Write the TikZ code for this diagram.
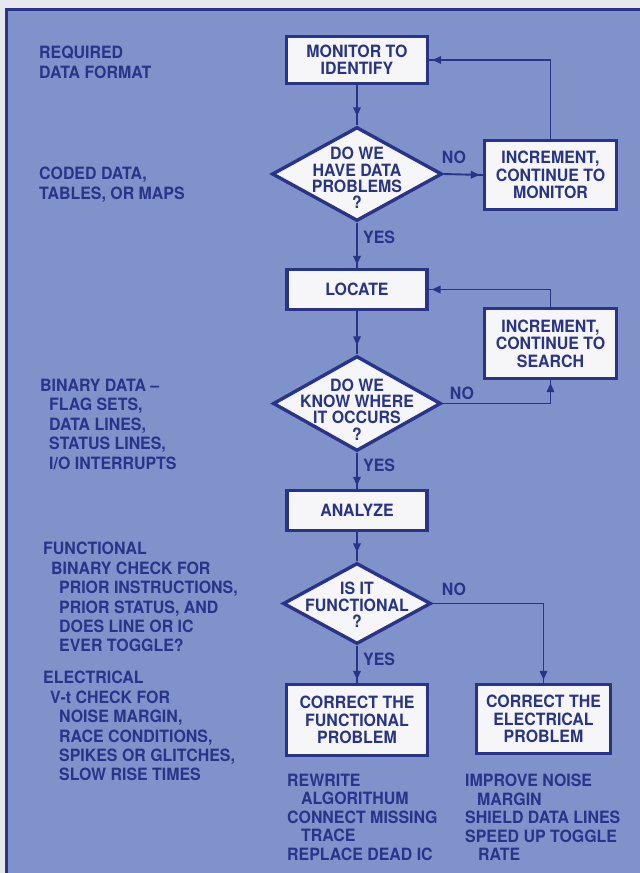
\documentclass[tikz,border=0pt]{standalone}
\usepackage{fontspec}
\setmainfont{TeX Gyre Heros}[FakeStretch=0.94]
\usetikzlibrary{shapes.geometric,arrows.meta,decorations.markings}
\definecolor{bg}{RGB}{128,146,202}
\definecolor{ink}{RGB}{40,52,138}
\definecolor{boxfill}{RGB}{246,246,249}
\definecolor{outside}{RGB}{230,232,238}
\begin{document}
\begin{tikzpicture}[x=1bp,y=-1bp,
  every node/.style={text=ink, inner sep=0pt},
  box/.style={draw=ink, fill=boxfill, line width=3.4bp, align=center, font=\bfseries\fontsize{17}{17.5}\selectfont},
  dia/.style={diamond, draw=ink, fill=boxfill, line width=3.4bp},
  diatext/.style={align=center, font=\bfseries\fontsize{17}{16.5}\selectfont},
  note/.style={align=left, anchor=north west, font=\bfseries\fontsize{17}{19.5}\selectfont},
  notelow/.style={align=left, anchor=north west, font=\bfseries\fontsize{17}{18.5}\selectfont},
  answer/.style={font=\bfseries\fontsize{17}{16}\selectfont},
  flow/.style={draw=ink, line width=1.9bp, postaction={decorate},
    decoration={markings, mark=at position -#1 with {\arrow[ink]{Triangle[length=9bp,width=7.5bp]}}}},
  flow/.default=3bp]
\useasboundingbox (0,0) rectangle (640,873);
% background and frame
\fill[outside] (0,0) rectangle (640,873);
\fill[bg] (5,8) rectangle (640,873);
\draw[ink, line width=2.5bp] (6.25,873) |- (640,9.25);

% main column
\node[box, minimum width=141bp, minimum height=47bp] (mon) at (357,60) {MONITOR TO\\IDENTIFY};
\node[dia, minimum width=170bp, minimum height=94bp] (d1) at (357,174) {};
\node[diatext] (d1t) at (357,178) {DO WE\\HAVE DATA\\PROBLEMS\\?};
\node[box, minimum width=132bp, minimum height=69bp] (inc1) at (550.5,175) {INCREMENT,\\CONTINUE TO\\MONITOR};
\node[box, minimum width=140bp, minimum height=40bp] (loc) at (357,289.5) {LOCATE};
\node[box, minimum width=132bp, minimum height=70bp] (inc2) at (550.5,343.5) {INCREMENT,\\CONTINUE TO\\SEARCH};
\node[dia, minimum width=168bp, minimum height=95bp] (d2) at (357,403.5) {};
\node[diatext] (d2t) at (357,409.5) {DO WE\\KNOW WHERE\\IT OCCURS\\?};
\node[box, minimum width=140bp, minimum height=40bp] (ana) at (357,510.5) {ANALYZE};
\node[dia, minimum width=148bp, minimum height=81bp] (d3) at (357,603.5) {};
\node[diatext] (d3t) at (357,605) {IS IT\\FUNCTIONAL\\?};
\node[box, minimum width=141bp, minimum height=71bp] (fun) at (357,720) {CORRECT THE\\FUNCTIONAL\\PROBLEM};
\node[box, minimum width=134bp, minimum height=69bp] (ele) at (543.5,719) {CORRECT THE\\ELECTRICAL\\PROBLEM};

% connectors
\draw[flow=9bp] (mon.south) -- (d1.north);
\draw[flow] (d1.east) -- (inc1.west);
\draw[flow] (inc1.north) |- (mon.east);
\draw[flow] (d1.south) -- (loc.north);
\draw[flow=9bp] (loc.south) -- (d2.north);
\draw[flow] (d2.east) -| (inc2.south);
\draw[flow] (inc2.north) |- (loc.east);
\draw[flow] (d2.south) -- (ana.north);
\draw[flow=9bp] (ana.south) -- (d3.north);
\draw[flow] (d3.south) -- (fun.north);
\draw[flow] (d3.east) -| (ele.north);

% answers
\node[answer] (no1) at (454,157) {NO};
\node[answer, anchor=west] (yes1) at (363,237) {YES};
\node[answer] (no2) at (462,393) {NO};
\node[answer, anchor=west] (yes2) at (363,465) {YES};
\node[answer] (no3) at (454,589) {NO};
\node[answer, anchor=west] (yes3) at (363,659) {YES};

% left notes
\node[note] (n1) at (39,46) {REQUIRED\\DATA FORMAT};
\node[note] (n2) at (39,167) {CODED DATA,\\TABLES, OR MAPS};
\node[note] (n3) at (40,379) {BINARY DATA --\\\hspace*{9bp}FLAG SETS,\\\hspace*{9bp}DATA LINES,\\\hspace*{9bp}STATUS LINES,\\\hspace*{9bp}I/O INTERRUPTS};
\node[note] (n4) at (43,542) {FUNCTIONAL\\\hspace*{8bp}BINARY CHECK FOR\\\hspace*{16bp}PRIOR INSTRUCTIONS,\\\hspace*{16bp}PRIOR STATUS, AND\\\hspace*{16bp}DOES LINE OR IC\\\hspace*{16bp}EVER TOGGLE?};
\node[note] (n5) at (43,671) {ELECTRICAL\\\hspace*{7bp}V-t CHECK FOR\\\hspace*{16bp}NOISE MARGIN,\\\hspace*{16bp}RACE CONDITIONS,\\\hspace*{16bp}SPIKES OR GLITCHES,\\\hspace*{16bp}SLOW RISE TIMES};

% bottom notes
\node[notelow] (n6) at (287,774) {REWRITE\\\hspace*{14bp}ALGORITHUM\\CONNECT MISSING\\\hspace*{14bp}TRACE\\REPLACE DEAD IC};
\node[notelow] (n7) at (465,774) {IMPROVE NOISE\\\hspace*{12bp}MARGIN\\SHIELD DATA LINES\\SPEED UP TOGGLE\\\hspace*{13bp}RATE};
\end{tikzpicture}
\end{document}
